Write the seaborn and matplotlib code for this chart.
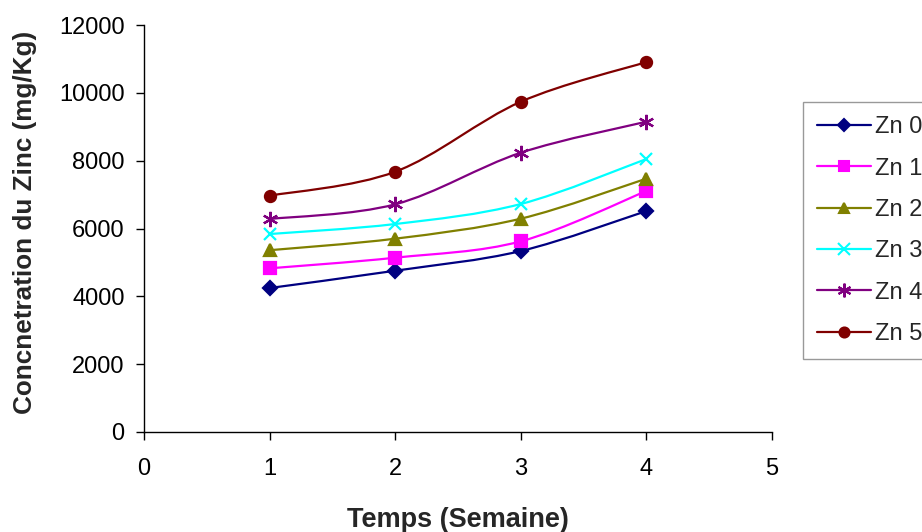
import numpy as np
import pandas as pd
import matplotlib
matplotlib.use("Agg")
import matplotlib.pyplot as plt
from matplotlib.path import Path
from matplotlib.patches import PathPatch
from matplotlib.lines import Line2D
import seaborn as sns

weeks = [1, 2, 3, 4]
series_names = ["Zn 0", "Zn 1", "Zn 2", "Zn 3", "Zn 4", "Zn 5"]
zn0 = [4245, 4755, 5336, 6515]
zn1 = [4826, 5139, 5622, 7105]
zn2 = [5360, 5700, 6290, 7470]
zn3 = [5837, 6132, 6722, 8049]
zn4 = [6280, 6713, 8235, 9149]
zn5 = [6967, 7674, 9738, 10908]
x_ticks = [0, 1, 2, 3, 4, 5]
y_ticks = [0, 2000, 4000, 6000, 8000, 10000, 12000]

colors = ["#000080", "#FF00FF", "#808000", "#00FFFF", "#800080", "#800000"]
markers = ["D", "s", "^", "x", (6, 2, 0), "o"]
msizes = [7, 8, 8.5, 9, 11, 8]

sns.set_theme(style="white")
plt.rcParams['font.family'] = ['Liberation Sans', 'DejaVu Sans']

rows = []
for name, vals in zip(series_names, [zn0, zn1, zn2, zn3, zn4, zn5]):
    for w, v in zip(weeks, vals):
        rows.append({"Temps": w, "Conc": v, "Serie": name})
df = pd.DataFrame(rows)

fig = plt.figure(figsize=(9.22, 5.32), dpi=100)
ax = fig.add_axes([144/922, 1-432/532, (772-144)/922, (432-25)/532])


def smooth_path(xs, ys):
    P = np.column_stack([xs, ys]).astype(float)
    n = len(P)
    verts = [P[0]]
    codes = [Path.MOVETO]
    for i in range(n - 1):
        p0 = P[i - 1] if i > 0 else P[i]
        p1 = P[i]
        p2 = P[i + 1]
        p3 = P[i + 2] if i + 2 < n else P[i + 1]
        c1 = p1 + (p2 - p0) / 6.0
        c2 = p2 - (p3 - p1) / 6.0
        verts += [c1, c2, p2]
        codes += [Path.CURVE4] * 3
    return Path(verts, codes)


handles = []
for name, col, mk, ms in zip(series_names, colors, markers, msizes):
    sub = df[df["Serie"] == name]
    ax.add_patch(PathPatch(smooth_path(sub["Temps"].values, sub["Conc"].values),
                           facecolor="none", edgecolor=col, lw=1.6, zorder=2))
    sns.lineplot(data=sub, x="Temps", y="Conc", ax=ax, color=col, marker=mk,
                 markersize=ms, markeredgecolor=col, markeredgewidth=1.6,
                 linestyle="none", legend=False, zorder=3)
    handles.append(Line2D([0], [0], color=col, lw=1.6, marker=mk, markersize=ms * 0.9,
                          markeredgecolor=col, markeredgewidth=1.5))

ax.set_xlim(0, 5)
ax.set_ylim(0, 12000)
ax.set_xticks(x_ticks)
ax.set_yticks(y_ticks)
ax.set_xticklabels([str(t) for t in x_ticks], fontsize=17)
ax.set_yticklabels([str(t) for t in y_ticks], fontsize=17)
for s in ["top", "right"]:
    ax.spines[s].set_visible(False)
for s in ["left", "bottom"]:
    ax.spines[s].set_color("black")
    ax.spines[s].set_linewidth(1.0)
ax.tick_params(axis="both", direction="out", length=6, width=1, color="black",
               left=True, bottom=True, labelcolor="black")
ax.tick_params(axis="y", pad=8)
ax.tick_params(axis="x", pad=13)
ax.grid(False)

ax.set_xlabel("Temps (Semaine)", fontsize=19.5, fontweight="bold", labelpad=19)
ax.set_ylabel("Concnetration du Zinc (mg/Kg)", fontsize=18.8, fontweight="bold", labelpad=14)
ax.yaxis.set_label_coords(-0.17, 0.515)

leg = fig.legend(handles, series_names, loc="upper left",
                 bbox_to_anchor=(803/922, 1-102/532), fontsize=17,
                 frameon=True, fancybox=False, handlelength=2.3, handletextpad=0.15,
                 labelspacing=0.82, borderpad=0.6, borderaxespad=0)
leg.get_frame().set_edgecolor("#808080")
leg.get_frame().set_linewidth(1.0)

fig.savefig("out.png", dpi=100)
